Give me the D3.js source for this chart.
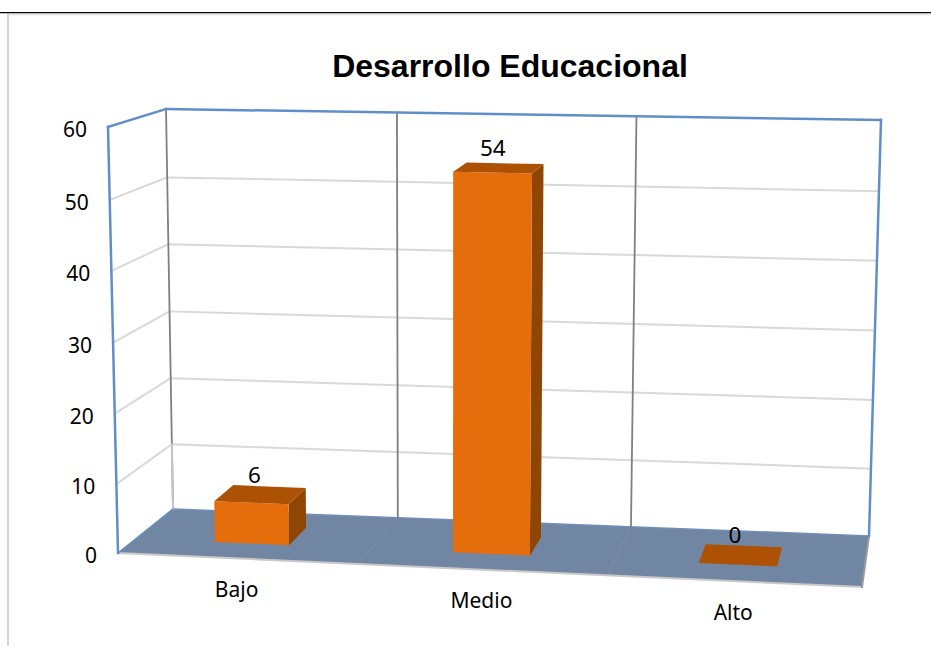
<!DOCTYPE html>
<html lang="es">
<head>
<meta charset="utf-8">
<script src="https://cdn.jsdelivr.net/npm/d3@7"></script>
<style>
html,body{margin:0;padding:0;background:#fff;overflow:hidden}
svg{display:block}
text{fill:#000;font-family:"Noto Sans",sans-serif}
</style>
</head>
<body>
<svg id="chart" width="931" height="646"></svg>
<script>
const categories = ["Bajo", "Medio", "Alto"];
const seriesValues = [6, 54, 0];
const yTicks = [0, 10, 20, 30, 40, 50, 60];
const chartTitle = "Desarrollo Educacional";

const svg = d3.select("#chart");
const W = 931, H = 646;

// Perspective box: corners of the front and back planes
const box = {
  frontTL: [108, 127], frontBL: [118, 553], frontTR: [874, 146], frontBR: [862, 587],
  backTL: [166, 109], backBL: [173, 509], backTR: [881, 120], backBR: [869, 536]
};
// category position -> fraction across the box (slight perspective)
const xFrac = d3.scaleLinear().domain([0, 1, 2, 3]).range([0, 0.323, 0.658, 1]);
// value -> fraction down the box
const yFrac = d3.scaleLinear().domain([60, 50, 40, 30, 20, 10, 0]).range([0, 0.171, 0.338, 0.506, 0.673, 0.838, 1]);
const mix = (a, b, t) => [a[0] + (b[0] - a[0]) * t, a[1] + (b[1] - a[1]) * t];

function project(u, v, d) {
  const s = xFrac(u), t = yFrac(v);
  const front = mix(mix(box.frontTL, box.frontTR, s), mix(box.frontBL, box.frontBR, s), t);
  const back = mix(mix(box.backTL, box.backTR, s), mix(box.backBL, box.backBR, s), t);
  return mix(front, back, d);
}
const line = d3.line();
function seg(a, b, color, width) {
  svg.append("path").attr("d", line([a, b])).attr("fill", "none")
    .attr("stroke", color).attr("stroke-width", width).attr("stroke-linecap", "square");
}
function poly(points, color) {
  svg.append("path").attr("d", line(points) + "Z").attr("fill", color);
}

// Page frame
svg.append("rect").attr("width", W).attr("height", H).attr("fill", "#fff");
seg([8, 14.5], [W, 14.5], "#e9e9e9", 2);
seg([8, 14], [8, H], "#d4d4d4", 2);
svg.append("line").attr("x1", 0).attr("x2", W).attr("y1", 12.7).attr("y2", 12.7)
  .attr("stroke", "#000").attr("stroke-width", 1.2);

const maxV = d3.max(yTicks), nCat = categories.length;

// Gridlines on walls
yTicks.filter(v => v > 0 && v < maxV).forEach(v => {
  seg(project(0, v, 0), project(0, v, 1), "#d9d9d9", 2);
  seg(project(0, v, 1), project(nCat, v, 1), "#d9d9d9", 2);
});

// Floor
poly([project(0, 0, 0), project(0, 0, 1), project(nCat, 0, 1), project(nCat, 0, 0)], "#7186a3");
d3.range(1, nCat).forEach(u => seg(project(u, 0, 0), project(u, 0, 1), "#84909f", 1));
seg(project(0, 0, 0), project(nCat, 0, 0), "#c9c9c9", 2);
seg(project(nCat, 0, 0), project(nCat, 0, 1), "#9a9a9a", 2);
seg(project(0, 0, 1), project(nCat, 0, 1), "#6f8fb8", 1.5);

// Back wall verticals
d3.range(0, nCat).forEach(u => seg(project(u, maxV, 1), project(u, 0, 1), "#808080", 1.8));
seg(project(0, 10, 1), project(0, 0, 1), "#c3c7cc", 2);

// Blue box edges
const blue = "#5f8fca";
seg(project(0, maxV, 0), project(0, 0, 0), blue, 2.5);
seg(project(0, maxV, 0), project(0, maxV, 1), blue, 2.5);
seg(project(0, maxV, 1), project(nCat, maxV, 1), blue, 2.5);
seg(project(nCat, maxV, 1), project(nCat, 0, 1), blue, 2.5);
seg(project(0, 0, 0), project(0, 0, 1), blue, 1.5);

// Bars
const barStart = 0.335, barEnd = 0.65, dFront = 0.33, dBack = 0.71;
const colFront = "#e66d0b", colTop = "#ad5205", colSide = "#8f4504";
categories.forEach((c, i) => {
  const v = seriesValues[i], a = i + barStart, b = i + barEnd;
  if (v > 0) {
    poly([project(b, v, dFront), project(b, v, dBack), project(b, 0, dBack), project(b, 0, dFront)], colSide);
    poly([project(a, v, dFront), project(b, v, dFront), project(b, 0, dFront), project(a, 0, dFront)], colFront);
  }
  poly([project(a, v, dFront), project(a, v, dBack), project(b, v, dBack), project(b, v, dFront)], colTop);
});

// Value labels
categories.forEach((c, i) => {
  const p = project(i + (barStart + barEnd) / 2, seriesValues[i], (dFront + dBack) / 2);
  svg.append("text").attr("x", p[0] - 6).attr("y", p[1] - 12)
    .attr("text-anchor", "middle").attr("font-size", 22.5).text(seriesValues[i]);
});

// Y tick labels
yTicks.forEach(v => {
  const p = project(0, v, 0);
  svg.append("text").attr("x", p[0] - 21).attr("y", p[1] + 10)
    .attr("text-anchor", "end").attr("font-size", 21).text(v);
});

// Category labels
categories.forEach((c, i) => {
  const p = project(i + 0.5, 0, 0);
  svg.append("text").attr("x", p[0] - 1.5).attr("y", p[1] + 38.5)
    .attr("text-anchor", "middle").attr("font-size", 21).text(c);
});

// Title
svg.append("text").attr("x", 510).attr("y", 77).attr("text-anchor", "middle")
  .style("font-family", '"Liberation Sans",Arial,sans-serif').attr("font-weight", 700)
  .attr("font-size", 32).text(chartTitle);
</script>
</body>
</html>
